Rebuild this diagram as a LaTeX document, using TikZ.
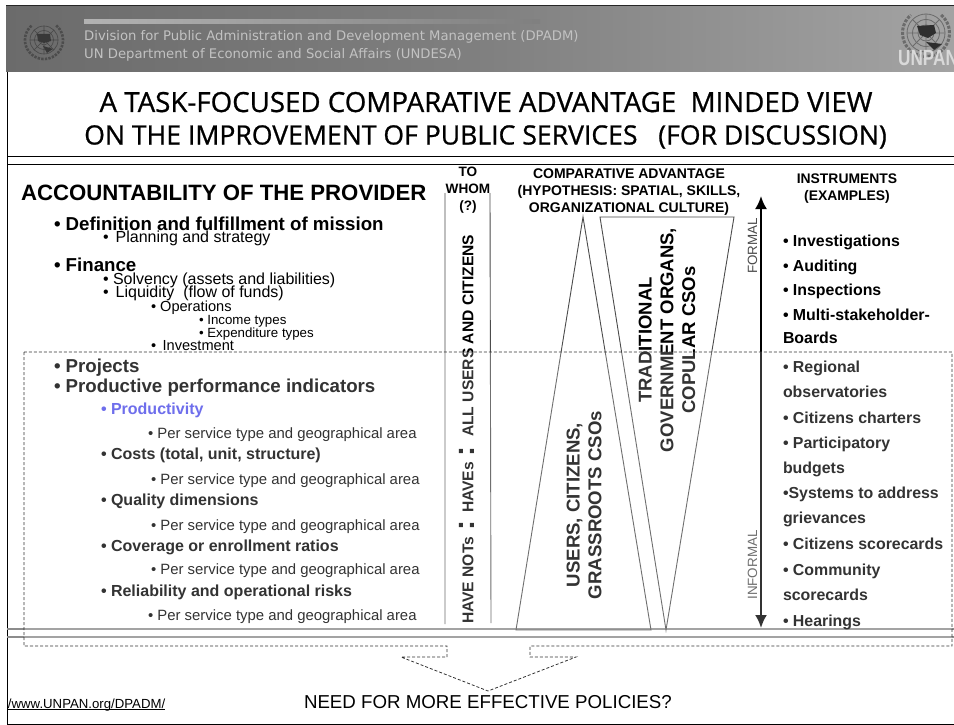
\documentclass[tikz,border=0pt]{standalone}
\usepackage{fontspec}
\setmainfont{Liberation Sans}
\newfontfamily\titlefont{Open Sans}[FakeBold=0.8]
\newfontfamily\headfont{DejaVu Sans}
\usetikzlibrary{shadings,arrows.meta}
\definecolor{prodblue}{HTML}{4A4AE8}
\tikzset{
 x=1pt,y=-1pt,
 txt/.style={anchor=base west,inner sep=0pt,outer sep=0pt,font=#1},
 headline/.style={anchor=base west,inner sep=0pt,text=black!24,font=\headfont\fontsize{13.2}{14}\selectfont},
 titleline/.style={anchor=base,inner sep=0pt,font=\titlefont\fontsize{#1}{30}\selectfont},
 colhead/.style={anchor=north,align=center,inner sep=0pt,font=\bfseries\fontsize{#1}{16.6}\selectfont},
 vert/.style={rotate=90,inner sep=0pt,align=center,font=\bfseries\fontsize{#1}{21.8}\selectfont},
 big/.style={txt=\bfseries\fontsize{18.7}{20}\selectfont},
 sub/.style={txt=\fontsize{16}{18}\selectfont},
 subsub/.style={txt=\fontsize{14.6}{16}\selectfont},
 tiny/.style={txt=\fontsize{13.3}{15}\selectfont},
 perarea/.style={txt=\fontsize{14.9}{16}\selectfont},
 mid/.style={txt=\bfseries\fontsize{16}{18}\selectfont},
 instr/.style={txt=\bfseries\fontsize{15.9}{18}\selectfont},
 thin line/.style={draw=black!70,line width=.9pt},
 rule/.style={draw=black,line width=1pt},
 grayrule/.style={draw=black!45,line width=1.2pt},
 dashbox/.style={draw=black!80,line width=.8pt,dash pattern=on 3pt off 2pt},
 sidetag/.style={rotate=90,inner sep=0pt,text=black!70,font=\fontsize{13.4}{15}\selectfont},
}
\begin{document}
\begin{tikzpicture}
\useasboundingbox (0,0) rectangle (954,725);
\fill[white] (0,0) rectangle (954,725);
% header
\shade[left color=black!58,right color=black!36,middle color=black!50] (6,6) rectangle (954,72);
\draw[black!85,line width=1.2pt] (6,5.5) -- (954,5.5);
\shade[left color=black!30,right color=black!50] (84,20) rectangle (540,24);
\node[headline] (h1) at (84,41) {Division for Public Administration and Development Management (DPADM)};
\node[headline] (h2) at (84,59) {UN Department of Economic and Social Affairs (UNDESA)};
% left emblem
\begin{scope}[draw=black!72,line width=.6pt]
\draw (44,40) circle (14) (44,40) circle (9.5) (44,40) circle (5);
\draw (30,40) -- (58,40) (44,26) -- (44,54) (34,30) -- (54,50) (54,30) -- (34,50);
\fill[black!78] (37,34) -- (50,34) -- (51,41) -- (44,43) -- (38,41) -- cycle (43,46) -- (53,49) -- (47,53) -- cycle;
\draw[line width=2.6pt,black!70,dash pattern=on 2.4pt off 1.2pt] plot[domain=-50:230,samples=40,smooth] ({44+19*cos(\x)},{40+19*sin(\x)});
\end{scope}
% right emblem
\begin{scope}[draw=black!58,line width=.8pt]
\draw (926,33) circle (19) (926,33) circle (13.5) (926,33) circle (8);
\draw (907,33) -- (945,33) (926,14) -- (926,52) (913,20) -- (939,46) (939,20) -- (913,46);
\fill[black!82] (917,26) -- (934,25) -- (936,33) -- (928,38) -- (920,35) -- cycle (926,42) -- (942,44) -- (934,50) -- cycle;
\draw[line width=3pt,black!58,dash pattern=on 3pt off 1.4pt] plot[domain=-50:230,samples=40,smooth] ({926+23.5*cos(\x)},{33+23.5*sin(\x)});
\end{scope}
\node[anchor=base west,inner sep=0pt,xscale=.78,text=black!15,font=\bfseries\fontsize{22}{24}\selectfont] (unpan) at (898,66) {UNPAN};
% frame
\coordinate (fa) at (7,72); \coordinate (fb) at (7,724); \coordinate (fc) at (954,724);
\draw[rule] (fa) -- (fb) -- (fc);
\coordinate (r1a) at (7,156); \coordinate (r1b) at (954,156);
\coordinate (r2a) at (7,164); \coordinate (r2b) at (954,164);
\draw[rule] (r1a) -- (r1b) (r2a) -- (r2b);
% title
\node[titleline=27.7] (t1) at (486,112) {A TASK-FOCUSED COMPARATIVE ADVANTAGE\ \ MINDED VIEW};
\node[titleline=26.6] (t2) at (485.5,144.5) {ON THE IMPROVEMENT OF PUBLIC SERVICES\ \ \ (FOR DISCUSSION)};
% bottom rules
\coordinate (g1a) at (7,629); \coordinate (g1b) at (954,629);
\coordinate (g2a) at (7,637); \coordinate (g2b) at (954,637);
\draw[grayrule] (g1a) -- (g1b) (g2a) -- (g2b);
% left column
\node[txt=\bfseries\fontsize{22.2}{24}\selectfont] (acc) at (21,200.5) {ACCOUNTABILITY OF THE PROVIDER};
\node[big] (a1) at (54,230) {• Definition and fulfillment of mission};
\node[sub] (a2) at (103,242) {•\ \,Planning and strategy};
\node[big] (a3) at (54,271) {• Finance};
\node[sub] (a4) at (103,284) {• Solvency (assets and liabilities)};
\node[sub] (a5) at (103,297) {•\ \,Liquidity\ \ (flow of funds)};
\node[subsub] (a6) at (151,311) {• Operations};
\node[tiny] (a7) at (199,324) {• Income types};
\node[tiny] (a8) at (199,337) {• Expenditure types};
\node[subsub] (a9) at (151,350) {•\ \,Investment};
\node[txt=\bfseries\fontsize{18.7}{20}\selectfont] (b1) at (54,372) {• Projects};
\node[txt=\bfseries\fontsize{18.7}{20}\selectfont] (b2) at (54,392) {• Productive performance indicators};
\node[mid,text=prodblue] (b3) at (101,414) {• Productivity};
\node[perarea] (b4) at (148,438) {• Per service type and geographical area};
\node[mid] (b5) at (101,459) {• Costs (total, unit, structure)};
\node[perarea] (b6) at (151,484) {• Per service type and geographical area};
\node[mid] (b7) at (101,505) {• Quality dimensions};
\node[perarea] (b8) at (151,530) {• Per service type and geographical area};
\node[mid] (b9) at (101,551) {• Coverage or enrollment ratios};
\node[perarea] (b10) at (151,574) {• Per service type and geographical area};
\node[mid] (b11) at (101,596) {• Reliability and operational risks};
\node[perarea] (b12) at (148,620) {• Per service type and geographical area};
% column heads
\node[colhead=13.6] (c1) at (468,167) {TO\\WHOM\\[1pt](?)};
\node[colhead=14] (c2) at (629,169) {COMPARATIVE ADVANTAGE\\(HYPOTHESIS: SPATIAL, SKILLS,\\ORGANIZATIONAL CULTURE)};
\node[colhead=13.9] (c3) at (847,174) {INSTRUMENTS\\(EXAMPLES)};
% to whom column
\coordinate (w1a) at (445,193); \coordinate (w1b) at (445,624);
\coordinate (w2a) at (490,193); \coordinate (w2b) at (491,623);
\draw[thin line] (w1a) -- (w1b) (w2a) -- (w2b);
\node[vert=15.6,anchor=west] (w3) at (468,437) {ALL USERS AND CITIZENS};
\node[vert=15.6,anchor=west] (w4) at (468,513) {HAVEs};
\node[vert=15.6,anchor=west] (w5) at (468,624) {HAVE NOTs};
\node[vert=30,anchor=center] (w6) at (466.5,452) {:};
\node[vert=30,anchor=center] (w7) at (466.5,526) {:};
% trapezoids
\coordinate (p1) at (583,217); \coordinate (p2) at (516,630); \coordinate (p3) at (651,630);
\coordinate (p4) at (600,217); \coordinate (p5) at (734,217); \coordinate (p6) at (666,630);
\draw[thin line] (p1) -- (p2) -- (p3) -- cycle;
\draw[thin line] (p4) -- (p5) -- (p6) -- cycle;
\node[vert=18.6,anchor=center] (u1) at (584,505) {USERS, CITIZENS,\\GRASSROOTS CSOs};
\node[vert=18.5,anchor=center] (u2) at (667,340) {TRADITIONAL\\GOVERNMENT ORGANS,\\COPULAR CSOs};
% arrow
\coordinate (ar1) at (761,196); \coordinate (ar2) at (761,628); \coordinate (arm) at (761,300);
\draw[line width=2.2pt,black,-{Latex[length=13pt,width=12pt]}] (arm) -- (ar1);
\draw[line width=2.2pt,black,-{Latex[length=13pt,width=12pt]}] (arm) -- (ar2);
\node[sidetag] (f1) at (752.5,246) {FORMAL};
\node[sidetag] (f2) at (752.5,565) {INFORMAL};
% instruments
\node[instr] (i1) at (783,246) {• Investigations};
\node[instr] (i2) at (783,271) {• Auditing};
\node[instr] (i3) at (783,295) {• Inspections};
\node[instr] (i4) at (783,320) {• Multi-stakeholder-};
\node[instr] (i5) at (783,343) {Boards};
\node[instr] (i6) at (783,372) {• Regional};
\node[instr] (i7) at (783,397) {observatories};
\node[instr] (i8) at (783,423) {• Citizens charters};
\node[instr] (i9) at (783,448) {• Participatory};
\node[instr] (i10) at (783,473) {budgets};
\node[instr] (i11) at (783,498) {•Systems to address};
\node[instr] (i12) at (783,523) {grievances};
\node[instr] (i13) at (783,549) {• Citizens scorecards};
\node[instr] (i14) at (783,575) {• Community};
\node[instr] (i15) at (783,600) {scorecards};
\node[instr] (i16) at (783,626) {• Hearings};
% veil + dashed callout
\fill[white,opacity=.2] (24,352) rectangle (952,646);
\coordinate (d1) at (24,352); \coordinate (d2) at (24,646); \coordinate (d3) at (447,646);
\coordinate (d4) at (447,657); \coordinate (d5) at (401,657); \coordinate (d6) at (488,691);
\coordinate (d7) at (576,657); \coordinate (d8) at (530,657); \coordinate (d9) at (530,646);
\coordinate (d10) at (952,646); \coordinate (d11) at (952,352);
\draw[dashbox] (d1) -- (d2) -- (d3) -- (d4) -- (d5) -- (d6) -- (d7) -- (d8) -- (d9) -- (d10) -- (d11) -- cycle;
% bottom
\node[txt=\fontsize{13.2}{15}\selectfont] (url) at (8,708) {\underbar{/www.UNPAN.org/DPADM/}};
\node[txt=\fontsize{18.7}{20}\selectfont] (need) at (304,708) {NEED FOR MORE EFFECTIVE POLICIES?};
\end{tikzpicture}
\end{document}
